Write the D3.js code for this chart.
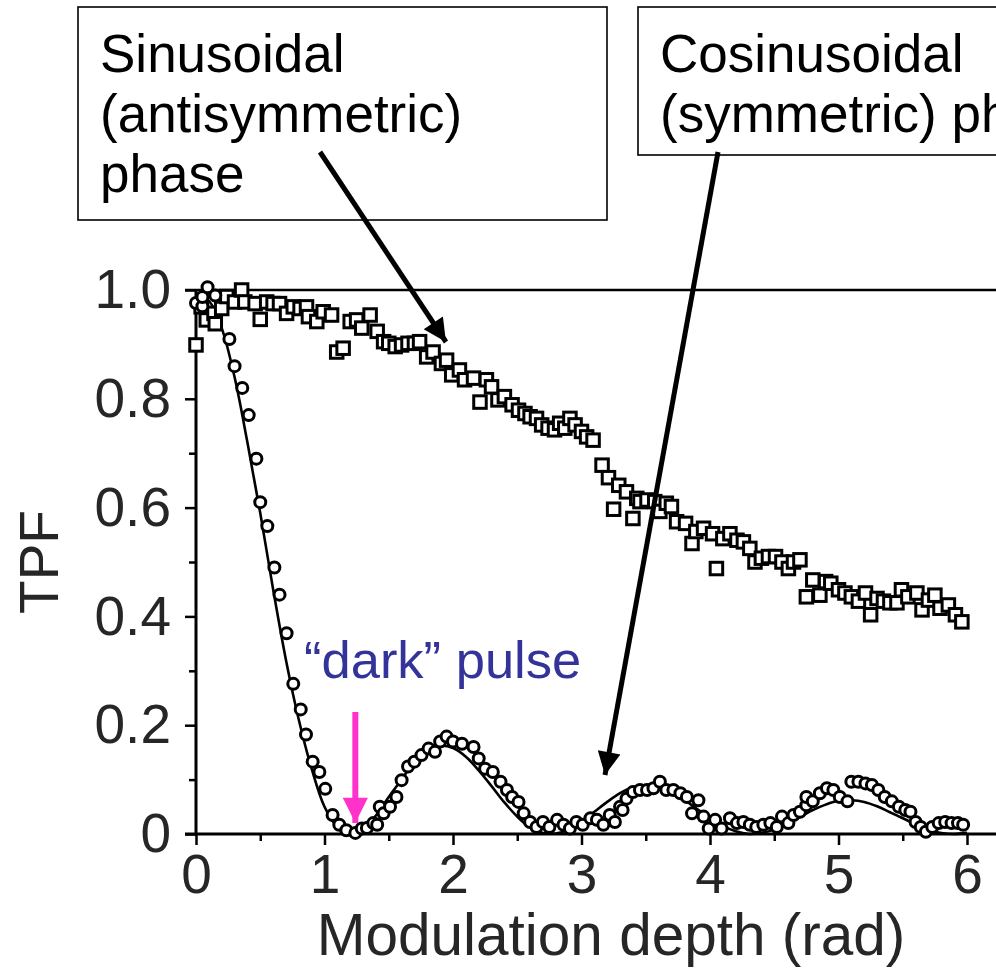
<!DOCTYPE html>
<html><head><meta charset="utf-8">
<script src="https://cdn.jsdelivr.net/npm/d3@7"></script>
<style>body{margin:0;background:#fff;}svg{display:block;font-family:"Liberation Sans",Arial,sans-serif;}</style>
</head><body>
<svg id="c" width="996" height="969"></svg>
<script>
// ---- data ----
const xTicks = [0, 1, 2, 3, 4, 5, 6];
const xMinor = [0.5, 1.5, 2.5, 3.5, 4.5, 5.5];
const yTicks = [0, 0.2, 0.4, 0.6, 0.8, 1.0];
const yTickLabels = ["0", "0.2", "0.4", "0.6", "0.8", "1.0"];
const yMinor = [0.1, 0.3, 0.5, 0.7, 0.9];

// Sinusoidal (antisymmetric) phase – open squares
const sinData = [
[0.0,0.899],[0.04,0.969],[0.08,0.945],[0.14,0.957],[0.15,0.938],[0.2,0.966],[0.24,0.988],[0.30,0.978],[0.355,1.0],[0.38,0.978],
[0.46,0.975],[0.50,0.946],[0.55,0.978],[0.60,0.975],[0.65,0.975],[0.705,0.957],[0.757,0.969],[0.81,0.966],[0.86,0.969],[0.875,0.951],
[0.94,0.942],[0.99,0.96],[1.055,0.954],[1.095,0.886],[1.145,0.893],[1.2,0.942],[1.25,0.945],[1.29,0.93],[1.355,0.954],[1.41,0.924],
[1.46,0.905],[1.5,0.902],[1.55,0.896],[1.60,0.899],[1.65,0.902],[1.70,0.902],[1.74,0.905],[1.795,0.877],[1.845,0.886],[1.91,0.865],
[1.95,0.871],[1.99,0.844],[2.05,0.853],[2.09,0.835],[2.16,0.838],[2.21,0.794],[2.26,0.835],[2.30,0.822],[2.35,0.798],[2.40,0.804],
[2.46,0.789],[2.51,0.779],[2.56,0.773],[2.60,0.767],[2.65,0.764],[2.69,0.752],[2.74,0.746],[2.79,0.743],[2.83,0.755],[2.87,0.746],
[2.91,0.764],[2.95,0.752],[3.0,0.74],[3.04,0.73],[3.09,0.724],[3.16,0.678],[3.21,0.655],[3.25,0.597],[3.29,0.641],[3.35,0.629],
[3.40,0.58],[3.43,0.617],[3.455,0.611],[3.51,0.614],[3.57,0.611],[3.61,0.593],[3.66,0.608],[3.70,0.602],[3.74,0.574],[3.81,0.571],
[3.86,0.534],[3.89,0.556],[3.95,0.562],[4.02,0.552],[4.05,0.488],[4.10,0.543],[4.155,0.552],[4.21,0.54],[4.26,0.537],[4.31,0.525],
[4.35,0.50],[4.40,0.507],[4.455,0.51],[4.51,0.51],[4.56,0.50],[4.61,0.488],[4.65,0.50],[4.70,0.504],[4.75,0.436],[4.80,0.467],
[4.855,0.439],[4.90,0.464],[4.94,0.461],[5.0,0.449],[5.05,0.443],[5.10,0.436],[5.155,0.428],[5.21,0.443],[5.25,0.403],[5.30,0.433],
[5.35,0.428],[5.40,0.425],[5.455,0.425],[5.49,0.449],[5.54,0.436],[5.61,0.443],[5.65,0.412],[5.70,0.43],[5.75,0.439],[5.79,0.415],
[5.855,0.421],[5.91,0.403],[5.96,0.39]
];

// Cosinusoidal (symmetric) phase – open circles
const cosData = [
[0.0,0.976],[0.05,0.97],[0.05,0.987],[0.09,1.005],[0.15,0.99],[0.26,0.91],[0.30,0.86],[0.36,0.82],[0.41,0.77],[0.47,0.69],
[0.50,0.61],[0.555,0.566],[0.61,0.49],[0.65,0.44],[0.705,0.369],[0.757,0.276],[0.815,0.229],[0.856,0.183],[0.908,0.133],[0.96,0.114],
[1.006,0.083],[1.063,0.035],[1.115,0.017],[1.17,0.007],[1.24,0.002],[1.29,0.01],[1.33,0.011],[1.38,0.02],[1.41,0.017],[1.43,0.05],
[1.46,0.038],[1.51,0.05],[1.56,0.068],[1.60,0.099],[1.65,0.124],[1.70,0.133],[1.755,0.145],[1.81,0.157],[1.86,0.151],[1.90,0.17],
[1.95,0.179],[2.0,0.17],[2.07,0.166],[2.16,0.16],[2.20,0.139],[2.25,0.12],[2.31,0.114],[2.37,0.096],[2.42,0.081],[2.46,0.068],
[2.51,0.059],[2.55,0.038],[2.60,0.022],[2.65,0.013],[2.70,0.022],[2.75,0.013],[2.81,0.026],[2.86,0.017],[2.91,0.01],[2.96,0.022],
[3.01,0.017],[3.07,0.029],[3.12,0.026],[3.17,0.017],[3.22,0.035],[3.26,0.022],[3.30,0.05],[3.32,0.044],[3.35,0.065],[3.40,0.077],
[3.455,0.081],[3.51,0.081],[3.56,0.084],[3.61,0.096],[3.66,0.081],[3.715,0.081],[3.77,0.075],[3.82,0.068],[3.86,0.038],[3.91,0.062],
[3.95,0.032],[3.99,0.01],[4.04,0.026],[4.09,0.01],[4.155,0.029],[4.21,0.02],[4.26,0.022],[4.31,0.017],[4.36,0.013],[4.415,0.017],
[4.47,0.02],[4.52,0.013],[4.56,0.032],[4.61,0.02],[4.65,0.035],[4.70,0.041],[4.75,0.053],[4.75,0.068],[4.80,0.06],[4.855,0.075],
[4.91,0.084],[4.96,0.081],[5.01,0.068],[5.07,0.06],[5.10,0.096],[5.155,0.096],[5.21,0.093],[5.26,0.09],[5.31,0.081],[5.36,0.068],
[5.415,0.06],[5.47,0.05],[5.52,0.044],[5.56,0.041],[5.60,0.022],[5.64,0.013],[5.68,0.004],[5.73,0.013],[5.78,0.02],[5.83,0.022],
[5.88,0.02],[5.93,0.02],[5.97,0.017]
];

// fitted curve through the circles
const fitX = [0,0.1,0.2,0.3,0.4,0.5,0.6,0.7,0.8,0.9,1.0,1.1,1.2,1.3,1.4,1.5,1.6,1.7,1.8,1.9,2.0,2.1,2.2,2.3,2.4,2.5,2.6,2.7,2.8,2.9,
3.0,3.1,3.2,3.3,3.4,3.5,3.6,3.7,3.8,3.9,4.0,4.1,4.2,4.3,4.4,4.5,4.6,4.7,4.8,4.9,5.0,5.1,5.2,5.3,5.4,5.5,5.6,5.7,5.8,5.9,6.0];
const fitY = [0.99,0.98,0.93,0.84,0.72,0.59,0.45,0.32,0.21,0.12,0.05,0.013,0.0,0.01,0.034,0.068,0.10,0.133,0.153,0.162,
0.158,0.142,0.117,0.088,0.058,0.032,0.012,0.002,0.001,0.008,0.023,0.041,0.059,0.075,0.086,0.09,0.087,0.078,0.063,0.046,
0.03,0.015,0.005,0.0,0.002,0.008,0.019,0.031,0.044,0.054,0.061,0.062,0.059,0.051,0.04,0.029,0.018,0.008,0.002,0.0,0.002];

const box1Lines = ["Sinusoidal", "(antisymmetric)", "phase"];
const box2Lines = ["Cosinusoidal", "(symmetric) phase"];
const darkLabel = "\u201Cdark\u201D pulse";
const xTitle = "Modulation depth (rad)";
const yTitle = "TPF";

// ---- drawing ----
const svg = d3.select("#c");
const W = 996;
const x = d3.scaleLinear().domain([0, 6]).range([196, 967]);
const y = d3.scaleLinear().domain([0, 1]).range([834, 290]);
const ink = "#262626";

const defs = svg.append("defs");
defs.append("marker").attr("id","ahB").attr("viewBox","0 0 10 10").attr("refX",10).attr("refY",5)
  .attr("markerWidth",6).attr("markerHeight",4.6).attr("markerUnits","strokeWidth").attr("orient","auto")
  .append("path").attr("d","M0,0L10,5L0,10Z").attr("fill","#000");
defs.append("marker").attr("id","ahM").attr("viewBox","0 0 10 10").attr("refX",10).attr("refY",5)
  .attr("markerWidth",5).attr("markerHeight",4.2).attr("markerUnits","strokeWidth").attr("orient","auto")
  .append("path").attr("d","M0,0L10,5L0,10Z").attr("fill","#ff33cc");

// axes
const fs = 55;
const gx = svg.append("g").attr("transform", `translate(0,${y(0)})`)
  .call(d3.axisBottom(x).tickValues(xTicks).tickFormat(d3.format("d")).tickSize(11).tickSizeOuter(0).tickPadding(9));
gx.select(".domain").remove();
gx.selectAll(".tick line").attr("stroke","#000").attr("stroke-width",2.5);
gx.selectAll(".tick text").attr("font-size",fs).attr("fill",ink).attr("font-family","Liberation Sans, Arial, sans-serif");
svg.append("g").attr("transform", `translate(0,${y(0)})`)
  .call(d3.axisBottom(x).tickValues(xMinor).tickFormat("").tickSize(7).tickSizeOuter(0))
  .call(g => g.select(".domain").remove())
  .selectAll(".tick line").attr("stroke","#000").attr("stroke-width",2.5);

const gy = svg.append("g").attr("transform", `translate(${x(0)},0)`)
  .call(d3.axisLeft(y).tickValues(yTicks).tickFormat((d,i) => yTickLabels[i]).tickSize(11).tickSizeOuter(0).tickPadding(14));
gy.select(".domain").remove();
gy.selectAll(".tick line").attr("stroke","#000").attr("stroke-width",2.5);
gy.selectAll(".tick text").attr("font-size",fs).attr("fill",ink).attr("font-family","Liberation Sans, Arial, sans-serif");
svg.append("g").attr("transform", `translate(${x(0)},0)`)
  .call(d3.axisLeft(y).tickValues(yMinor).tickFormat("").tickSize(7).tickSizeOuter(0))
  .call(g => g.select(".domain").remove())
  .selectAll(".tick line").attr("stroke","#000").attr("stroke-width",2.5);

// frame lines
svg.append("line").attr("x1",x(0)-11).attr("x2",W).attr("y1",y(0)).attr("y2",y(0)).attr("stroke","#000").attr("stroke-width",3);
svg.append("line").attr("x1",x(0)-11).attr("x2",W).attr("y1",y(1)).attr("y2",y(1)).attr("stroke","#000").attr("stroke-width",2.5);
svg.append("line").attr("x1",x(0)).attr("x2",x(0)).attr("y1",y(1)).attr("y2",y(0)).attr("stroke","#000").attr("stroke-width",3);

// axis titles
svg.append("text").attr("x",611).attr("y",955).attr("text-anchor","middle").attr("font-size",58.5).attr("fill",ink).text(xTitle);
svg.append("text").attr("transform",`translate(58,${y(0.5)}) rotate(-90)`).attr("text-anchor","middle").attr("font-size",55).attr("fill",ink).text(yTitle);

// fit curve
const line = d3.line().x((d,i) => x(fitX[i])).y((d,i) => y(fitY[i])).curve(d3.curveCatmullRom);
svg.append("path").datum(fitY).attr("d",line).attr("fill","none").attr("stroke","#000").attr("stroke-width",2.6);

// squares
const sq = 12.5;
svg.append("g").selectAll("rect").data(sinData).join("rect")
  .attr("x", d => x(d[0]) - sq/2).attr("y", d => y(d[1]) - sq/2).attr("width",sq).attr("height",sq)
  .attr("fill","#fff").attr("stroke","#000").attr("stroke-width",3);

// circles
svg.append("g").selectAll("circle").data(cosData).join("circle")
  .attr("cx", d => x(d[0])).attr("cy", d => y(d[1])).attr("r",5.5)
  .attr("fill","#fff").attr("stroke","#000").attr("stroke-width",3);

// annotation boxes
svg.append("rect").attr("x",78).attr("y",7).attr("width",529).attr("height",213).attr("fill","#fff").attr("stroke","#000").attr("stroke-width",1.6);
svg.append("g").selectAll("text").data(box1Lines).join("text")
  .attr("x",100).attr("y",(d,i) => 72 + i*60).attr("font-size",53).attr("fill","#000").text(d => d);
svg.append("rect").attr("x",638).attr("y",7).attr("width",400).attr("height",148).attr("fill","#fff").attr("stroke","#000").attr("stroke-width",1.6);
svg.append("g").selectAll("text").data(box2Lines).join("text")
  .attr("x",660).attr("y",(d,i) => 72 + i*60).attr("font-size",53).attr("fill","#000").text(d => d);

// black arrows
svg.append("line").attr("x1",320).attr("y1",152).attr("x2",446).attr("y2",342)
  .attr("stroke","#000").attr("stroke-width",5).attr("marker-end","url(#ahB)");
svg.append("line").attr("x1",718).attr("y1",152).attr("x2",605).attr("y2",775)
  .attr("stroke","#000").attr("stroke-width",5).attr("marker-end","url(#ahB)");

// dark pulse
svg.append("text").attr("x",304).attr("y",678).attr("font-size",52.5).attr("fill","#33339a").text(darkLabel);
svg.append("line").attr("x1",x(1.24)).attr("y1",712).attr("x2",x(1.24)).attr("y2",823)
  .attr("stroke","#ff33cc").attr("stroke-width",6).attr("marker-end","url(#ahM)");
</script>
</body></html>
